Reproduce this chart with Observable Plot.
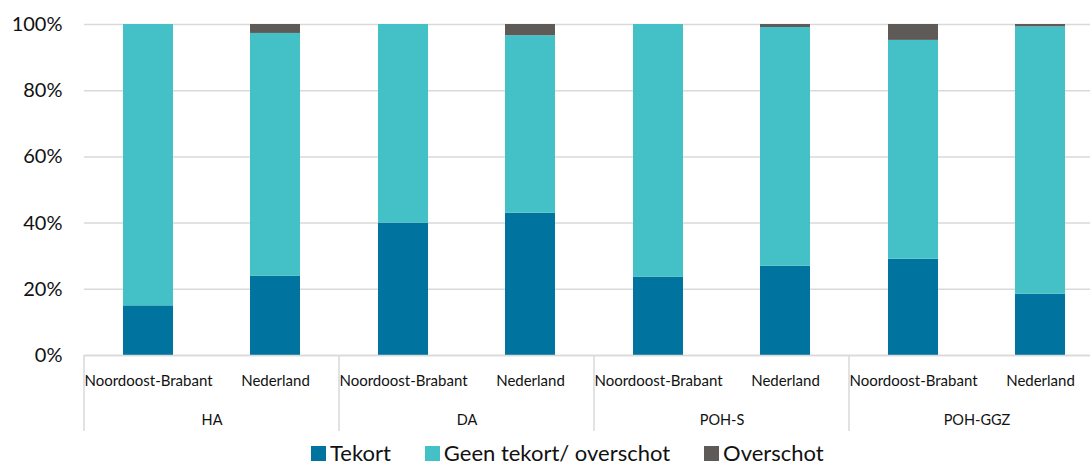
<!DOCTYPE html>
<html>
<head>
<meta charset="utf-8">
<script src="https://cdn.jsdelivr.net/npm/d3@7"></script>
<script src="https://cdn.jsdelivr.net/npm/@observablehq/plot@0.6"></script>
<style>
  html, body { margin: 0; padding: 0; background: #fff; overflow: hidden; }
  #wrap { position: relative; width: 1090px; height: 466px; overflow: hidden; font-family: Lato, "DejaVu Sans", sans-serif; }
  #chart svg { max-width: none !important; }
  #legend { position: absolute; left: 311px; top: 442px; display: flex; align-items: center; font-size: 22px; line-height: 22px; color: #111; white-space: nowrap; }
  .item { display: flex; align-items: center; margin-right: 34px; }
  .sw { width: 15px; height: 15px; margin-right: 4px; }
</style>
</head>
<body>
<div id="wrap"><div id="chart"></div><div id="legend"></div></div>
<script>
const groups = ["HA", "DA", "POH-S", "POH-GGZ"];
const regions = ["Noordoost-Brabant", "Nederland"];
const statuses = ["Tekort", "Geen tekort/ overschot", "Overschot"];
const colors = ["#00739f", "#43c1c6", "#5e5a57"];
// per bar: HA-NB, HA-NL, DA-NB, DA-NL, POH-S-NB, POH-S-NL, POH-GGZ-NB, POH-GGZ-NL
const tekort    = [15.0, 24.0, 40.0, 43.0, 23.7, 27.0, 29.1, 18.5];
const geen      = [85.0, 73.3, 60.0, 53.6, 76.3, 72.1, 66.1, 80.8];
const overschot = [0.0,  2.7,  0.0,  3.4,  0.0,  0.9,  4.8,  0.7];
const yTicks = [0, 20, 40, 60, 80, 100];

const series = [tekort, geen, overschot];
const data = [];
groups.forEach((g, gi) => regions.forEach((r, ri) => {
  const i = gi * regions.length + ri;
  statuses.forEach((s, si) => data.push({group: g, region: r, status: s, value: series[si][i]}));
}));

const chart = Plot.plot({
  width: 1104,
  height: 436,
  marginLeft: 84,
  marginRight: 0,
  marginTop: 24,
  marginBottom: 81,
  style: {fontFamily: "Lato, 'DejaVu Sans', sans-serif", color: "#111", background: "#fff"},
  fx: {domain: groups, padding: 0},
  x: {domain: regions, paddingInner: 0.608, paddingOuter: 0.305},
  y: {domain: [0, 100]},
  color: {domain: statuses, range: colors},
  marks: [
    Plot.gridY(yTicks, {stroke: "#d9d9d9", strokeOpacity: 1, strokeWidth: 1.5}),
    Plot.barY(data, Plot.stackY({fx: "group", x: "region", y: "value", fill: "status"})),
    Plot.ruleY([0], {stroke: "#d9d9d9", strokeWidth: 1.5}),
    Plot.axisY(yTicks, {tickSize: 0, tickPadding: 22, tickFormat: d => d + "%", fontSize: 20, label: null}),
    Plot.axisX({tickSize: 0, tickPadding: 20, fontSize: 15, label: null}),
    Plot.axisFx({anchor: "bottom", tickSize: 0, tickPadding: 59, fontSize: 14.5, label: null})
  ]
});
document.getElementById("chart").appendChild(chart);

// group separators below the axis, positioned from the fx scale
const fx = chart.scale("fx");
const yS = chart.scale("y");
const y0 = yS.apply(0);
const svg = d3.select(chart);
const edges = groups.map(g => fx.apply(g)).concat([fx.apply(groups[groups.length - 1]) + fx.bandwidth]);
svg.append("g").selectAll("line").data(edges).join("line")
  .attr("x1", d => d).attr("x2", d => d)
  .attr("y1", y0).attr("y2", y0 + 76)
  .attr("stroke", "#d9d9d9").attr("stroke-width", 1.5);

// legend
const leg = d3.select("#legend");
statuses.forEach((s, i) => {
  const it = leg.append("div").attr("class", "item");
  it.append("div").attr("class", "sw").style("background", colors[i]);
  it.append("span").text(s);
});
</script>
</body>
</html>
